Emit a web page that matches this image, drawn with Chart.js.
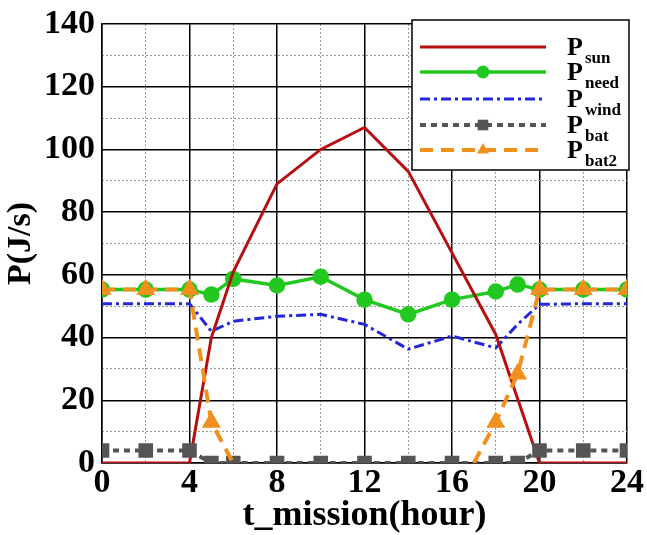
<!DOCTYPE html>
<html>
<head>
<meta charset="utf-8">
<script src="https://cdn.jsdelivr.net/npm/chart.js@4.4.0/dist/chart.umd.min.js"></script>
<style>
  html, body { margin: 0; padding: 0; background: #fff; }
  #wrap { width: 647px; height: 535px; position: relative; }
  canvas { display: block; }
</style>
</head>
<body>
<div id="wrap"><canvas id="chart" width="647" height="535"></canvas></div>
<script>
// values
const hoursSun = [0, 2, 4, 5, 6, 8, 10, 12, 14, 16, 18, 20, 22, 24];
const pSun = [0, 0, 0, 40, 61, 89, 100, 107, 93, 67, 41, 0, 0, 0];

const hoursMain = [0, 2, 4, 5, 6, 8, 10, 12, 14, 16, 18, 19, 20, 22, 24];
const pNeed = [55.3, 55.3, 55.3, 53.7, 58.7, 56.6, 59.4, 52.1, 47.4, 52.1, 54.7, 56.9, 55.3, 55.3, 55.3];
const pWind = [50.8, 50.8, 50.8, 42, 45.2, 46.8, 47.4, 44.2, 36.3, 40.5, 36.7, 44.2, 50.6, 50.8, 50.8];
const pBat = [4, 4, 4, 0, 0, 0, 0, 0, 0, 0, 0, 0, 4, 4, 4];

const hoursBat2 = [0, 2, 4, 5, 6, 12, 17, 18, 19, 20, 22, 24];
const pBat2 = [55.3, 55.3, 55.3, 13, 0, null, 0, 13, 28.4, 55.3, 55.3, 55.3];

const legendSubs = ['sun', 'need', 'wind', 'bat', 'bat2'];

const serif = '"Liberation Serif", "DejaVu Serif", serif';

function pts(xs, ys) {
    return xs.map((x, i) => ({ x: x, y: ys[i] }));
}

// legend with subscripts, drawn inside the plot
const subLegend = {
    id: 'subLegend',
    afterDraw(chart) {
        const ctx = chart.ctx;
        const bx = 412, by = 20, bw = 217, bh = 150;
        ctx.save();
        ctx.fillStyle = '#fff';
        ctx.fillRect(bx, by, bw, bh);
        ctx.strokeStyle = '#000';
        ctx.lineWidth = 1.5;
        ctx.strokeRect(bx, by, bw, bh);
        const rows = [47, 72, 99, 125, 150];
        chart.data.datasets.forEach((ds, i) => {
            const y = rows[i];
            ctx.save();
            ctx.strokeStyle = ds.borderColor;
            ctx.lineWidth = ds.borderWidth;
            ctx.setLineDash(ds.borderDash || []);
            ctx.beginPath();
            ctx.moveTo(420, y);
            ctx.lineTo(546, y);
            ctx.stroke();
            ctx.restore();
            const r = ds.markerSize || 0;
            if (r > 0) {
                ctx.fillStyle = ds.borderColor;
                ctx.beginPath();
                if (ds.pointStyle === 'circle') {
                    ctx.arc(483, y, r, 0, Math.PI * 2);
                } else if (ds.pointStyle === 'rect') {
                    const s = r * Math.SQRT1_2;
                    ctx.rect(483 - s, y - s, 2 * s, 2 * s);
                } else {
                    ctx.moveTo(483, y - r);
                    ctx.lineTo(483 + r * 0.866, y + r * 0.5);
                    ctx.lineTo(483 - r * 0.866, y + r * 0.5);
                    ctx.closePath();
                }
                ctx.fill();
            }
            ctx.fillStyle = '#000';
            ctx.textBaseline = 'alphabetic';
            ctx.font = 'bold 26px ' + serif;
            ctx.fillText('P', 567, y + 8);
            ctx.font = 'bold 17px ' + serif;
            ctx.fillText(legendSubs[i], 585, y + 16);
        });
        ctx.restore();
    }
};

new Chart(document.getElementById('chart'), {
    type: 'line',
    data: {
        datasets: [
            {
                label: 'Psun',
                data: pts(hoursSun, pSun),
                borderColor: '#b5100f',
                borderWidth: 3,
                pointRadius: 0,
                markerSize: 0,
                order: 2
            },
            {
                label: 'Pneed',
                data: pts(hoursMain, pNeed),
                borderColor: '#22c81f',
                backgroundColor: '#22c81f',
                pointBorderColor: '#22c81f',
                borderWidth: 3.5,
                pointStyle: 'circle',
                pointRadius: 6.5,
                markerSize: 6.5,
                order: 4
            },
            {
                label: 'Pwind',
                data: pts(hoursMain, pWind),
                borderColor: '#2426d8',
                borderWidth: 3,
                borderDash: [10, 4, 3, 4],
                pointRadius: 0,
                markerSize: 0,
                order: 3
            },
            {
                label: 'Pbat',
                data: pts(hoursMain, pBat),
                borderColor: '#555555',
                backgroundColor: '#555555',
                pointBorderColor: '#555555',
                borderWidth: 4,
                borderDash: [6, 5],
                pointStyle: 'rect',
                pointRadius: 7.5,
                markerSize: 7.5,
                order: 1
            },
            {
                label: 'Pbat2',
                data: pts(hoursBat2, pBat2),
                borderColor: '#f0901e',
                backgroundColor: '#f0901e',
                pointBorderColor: '#f0901e',
                borderWidth: 4,
                borderDash: [13, 8],
                pointStyle: 'triangle',
                pointRadius: c => (c.raw && (c.raw.x === 17 || c.raw.x === 6)) ? 0 : 7,
                markerSize: 7,
                order: 0
            }
        ]
    },
    options: {
        responsive: false,
        animation: false,
        devicePixelRatio: 1,
        layout: { padding: { left: 0, right: 19, top: 20, bottom: 0 } },
        elements: { line: { tension: 0, borderCapStyle: 'butt' } },
        plugins: {
            legend: { display: false },
            tooltip: { enabled: false }
        },
        scales: {
            x: {
                type: 'linear',
                position: 'bottom',
                min: 0,
                max: 24,
                afterFit: s => { s.height = 72; },
                ticks: {
                    stepSize: 4,
                    color: '#000',
                    padding: 3,
                    font: { family: serif, size: 34, weight: 'bold', lineHeight: 1 }
                },
                grid: { color: '#000', lineWidth: 1.5, drawTicks: false },
                border: { color: '#000', width: 1.5 },
                title: {
                    display: true,
                    text: 't_mission(hour)',
                    color: '#000',
                    padding: { top: 0, bottom: 1 },
                    font: { family: serif, size: 36, weight: 'bold', lineHeight: 1 }
                }
            },
            xMinor: {
                type: 'linear',
                position: 'bottom',
                min: 0,
                max: 24,
                afterFit: s => { s.height = 0; },
                ticks: { stepSize: 2, display: false },
                grid: {
                    drawTicks: false,
                    lineWidth: 1,
                    color: c => (c.tick && c.tick.value % 4 === 0) ? 'rgba(0,0,0,0)' : '#9a9a9a'
                },
                border: { display: false, dash: [2, 2] }
            },
            y: {
                type: 'linear',
                position: 'left',
                min: 0,
                max: 140,
                afterFit: s => { s.width = 102; },
                ticks: {
                    stepSize: 20,
                    color: '#000',
                    padding: 7,
                    font: { family: serif, size: 34, weight: 'bold', lineHeight: 1 }
                },
                grid: { color: '#000', lineWidth: 1.5, drawTicks: false },
                border: { color: '#000', width: 1.5 },
                title: {
                    display: true,
                    text: 'P(J/s)',
                    color: '#000',
                    padding: { top: 4, bottom: 0 },
                    font: { family: serif, size: 34, weight: 'bold', lineHeight: 1 }
                }
            },
            yMinor: {
                type: 'linear',
                position: 'left',
                min: 0,
                max: 140,
                afterFit: s => { s.width = 0; },
                ticks: { stepSize: 10, display: false },
                grid: {
                    drawTicks: false,
                    lineWidth: 1,
                    color: c => (c.tick && c.tick.value % 20 === 0) ? 'rgba(0,0,0,0)' : '#9a9a9a'
                },
                border: { display: false, dash: [2, 2] }
            }
        }
    },
    plugins: [subLegend]
});
</script>
</body>
</html>
